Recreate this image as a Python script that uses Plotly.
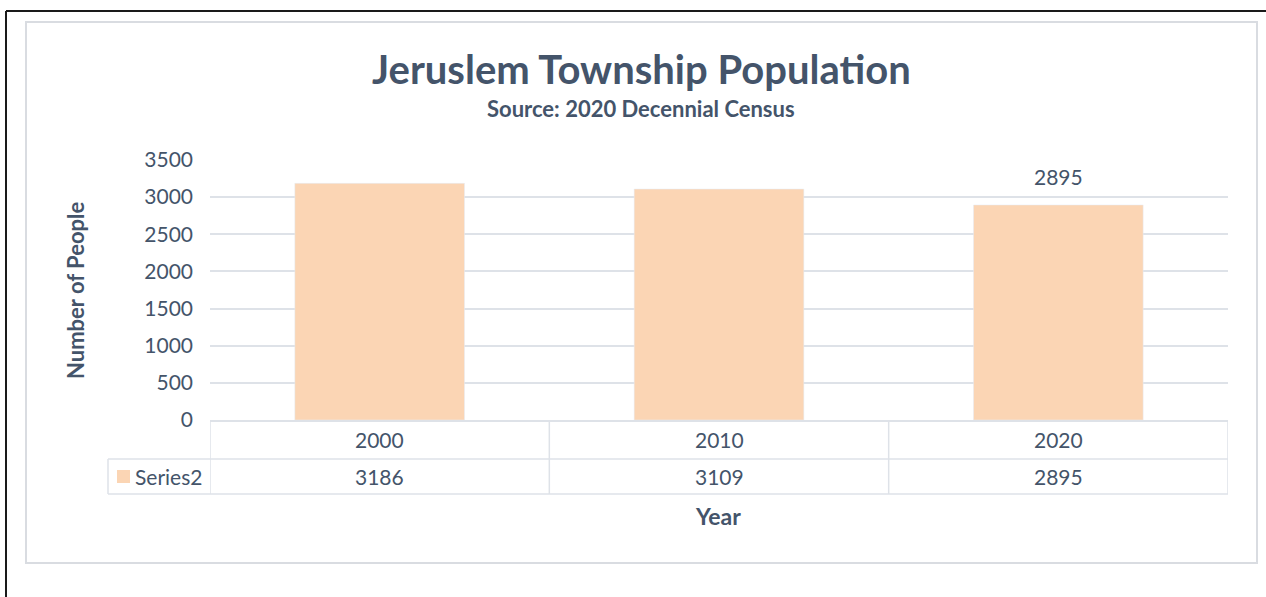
import plotly.graph_objects as go

years = ["2000", "2010", "2020"]
population = [3186, 3109, 2895]
series_name = "Series2"
labeled_year = "2020"
y_ticks = [0, 500, 1000, 1500, 2000, 2500, 3000, 3500]

W, H = 1266, 597
# plot area in screenshot pixels
L, R, T, B = 210, 1228, 160, 420
TXT = "#44546A"
GRID = "#DEE2E8"
BAR = "#FBD5B4"
FONT = "Lato"

def px(x):
    return (x - L) / (R - L)

def py(y):
    return (B - y) / (B - T)

idx = list(range(len(years)))

fig = go.Figure()
fig.add_trace(go.Bar(
    x=idx, y=population, width=0.5, marker_color=BAR, name=series_name,
    showlegend=False, hoverinfo="x+y",
))

shapes = []
# outer black frame (top and left edges)
shapes.append(dict(type="line", xref="paper", yref="paper", x0=px(6), x1=px(1300), y0=py(11), y1=py(11),
                   line=dict(color="#1a1a1a", width=2)))
shapes.append(dict(type="line", xref="paper", yref="paper", x0=px(6), x1=px(6), y0=py(11), y1=py(640),
                   line=dict(color="#1a1a1a", width=2)))
# inner chart area border
shapes.append(dict(type="rect", xref="paper", yref="paper", x0=px(26), x1=px(1257), y0=py(563), y1=py(22),
                   line=dict(color="#D9DCE1", width=2), fillcolor="rgba(0,0,0,0)", layer="below"))
# data table lines
row1 = py(459)
row2 = py(494)
tl = px(108)
shapes.append(dict(type="line", xref="paper", yref="paper", x0=tl, x1=1, y0=row1, y1=row1, line=dict(color=GRID, width=1.5)))
shapes.append(dict(type="line", xref="paper", yref="paper", x0=tl, x1=1, y0=row2, y1=row2, line=dict(color=GRID, width=1.5)))
shapes.append(dict(type="line", xref="paper", yref="paper", x0=tl, x1=tl, y0=row2, y1=row1, line=dict(color=GRID, width=1.5)))
for xb in [-0.5, 0.5, 1.5, 2.5]:
    shapes.append(dict(type="line", xref="x", yref="paper", x0=xb, x1=xb, y0=row2, y1=0, line=dict(color=GRID, width=1.5)))
# legend swatch
shapes.append(dict(type="rect", xref="paper", yref="paper", x0=px(117), x1=px(130), y0=py(483), y1=py(470),
                   fillcolor=BAR, line=dict(width=0)))

def ann(x, y, text, size, xref="paper", yref="paper", **kw):
    d = dict(x=x, y=y, xref=xref, yref=yref, text=text, showarrow=False,
             xanchor=kw.pop("xanchor", "center"), yanchor=kw.pop("yanchor", "middle"),
             font=dict(family=FONT, size=size, color=TXT))
    d.update(kw)
    return d

annotations = []
for i, (yr, v) in enumerate(zip(years, population)):
    annotations.append(ann(i, row1 / 2, yr, 21, xref="x"))
    annotations.append(ann(i, (row1 + row2) / 2, str(v), 21, xref="x"))
    if yr == labeled_year:
        annotations.append(ann(i, v, str(v), 21, xref="x", yref="y", yshift=28))
annotations.append(ann(px(133), (row1 + row2) / 2, series_name, 21, xanchor="left"))
# titles
annotations.append(ann(px(641), py(69), "<b>Jeruslem Township Population</b>", 40))
annotations.append(ann(px(641), py(108), "<b>Source: 2020 Decennial Census</b>", 22))
annotations.append(ann(px(718), py(516), "<b>Year</b>", 23))
annotations.append(ann(px(75), py(290), "<b>Number of People</b>", 22, textangle=-90))

fig.update_layout(
    width=W, height=H,
    margin=dict(l=L, r=W - R, t=T, b=H - B, pad=0),
    paper_bgcolor="white", plot_bgcolor="white",
    shapes=shapes, annotations=annotations,
    xaxis=dict(range=[-0.5, 2.5], showticklabels=False, showgrid=False,
               showline=True, linecolor=GRID, linewidth=1.5, zeroline=False, fixedrange=True),
    yaxis=dict(range=[0, 3500], tickvals=y_ticks, showgrid=True, gridcolor=GRID, gridwidth=1.5,
               zeroline=False, showline=False, ticklabelstandoff=16,
               tickfont=dict(family=FONT, size=21, color=TXT), fixedrange=True),
)

fig.write_html("out.html",
               config={"displayModeBar": False},
               post_script="document.body.style.margin='0';document.body.style.overflow='hidden';")
